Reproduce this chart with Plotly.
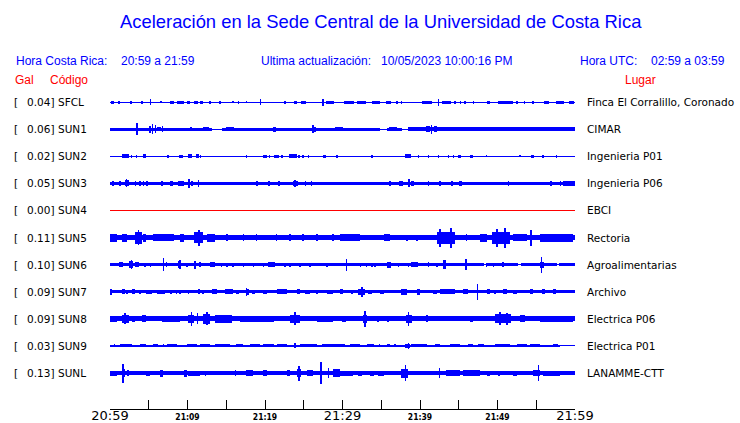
import plotly.graph_objects as go

# ---------------- data ----------------
codes = ["SFCL", "SUN1", "SUN2", "SUN3", "SUN4", "SUN5", "SUN6", "SUN7", "SUN8", "SUN9", "SUNL"]
gal = ["0.04", "0.06", "0.02", "0.05", "0.00", "0.11", "0.10", "0.09", "0.09", "0.03", "0.13"]
places = ["Finca El Corralillo, Coronado", "CIMAR", "Ingenieria P01", "Ingenieria P06", "EBCI",
          "Rectoria", "Agroalimentarias", "Archivo", "Electrica P06", "Electrica P01", "LANAMME-CTT"]

tick_minutes = [0, 5, 10, 15, 20, 25, 30, 35, 40, 45, 50, 55, 60]
tick_labels = ["20:59", "", "21:09", "", "21:19", "", "21:29", "", "21:39", "", "21:49", "", "21:59"]
major_ticks = ["20:59", "21:29", "21:59"]

# background noise level per station: (start min, end min, half amplitude)
band_SFCL = [(0, 60, 0.5)]
band_SUN1 = [(0, 13.1, 1.6), (13.1, 14.4, 0.5), (14.4, 34.8, 1.6), (34.8, 35.7, 0.5),
             (35.7, 37.7, 1.6), (37.7, 38.5, 0.5), (38.5, 60, 1.7)]
band_SUN2 = [(0, 60, 0.5)]
band_SUN3 = [(0, 58.5, 1.7), (58.5, 60, 2.2)]
band_SUN4 = [(0, 60, 0.5)]
band_SUN5 = [(0, 60, 2.6)]
band_SUN6 = [(0, 48.2, 1.4), (48.2, 48.6, 0.5), (48.6, 52.6, 1.4), (52.6, 53.0, 0.5),
             (53.0, 57.7, 1.4), (57.7, 57.9, 0.5), (57.9, 60, 1.6)]
band_SUN7 = [(0, 60, 1.7)]
band_SUN8 = [(0, 60, 2.6)]
band_SUN9 = [(0, 58.0, 0.9), (58.0, 60, 0.5)]
band_SUNL = [(0, 60, 1.7)]

# bursts / spikes per station: (start min, end min, half amplitude)
ev_SFCL = [(0.1, 0.5, 1.5), (1.0, 1.3, 1.5), (2.7, 2.7, 1.5), (4.1, 4.1, 1.5), (5.2, 5.2, 3), (6.6, 6.6, 1.2),
           (7.8, 8.2, 1.5), (8.6, 9.6, 1.5), (9.9, 10.3, 1.5), (10.8, 11.3, 1.5), (11.6, 12.0, 1.5),
           (12.9, 12.9, 1.5), (14.2, 14.2, 1.5), (15.9, 15.9, 1.2), (16.6, 16.6, 1.5), (17.6, 17.6, 1.2),
           (19.4, 19.4, 3), (22.6, 22.6, 1.5), (23.7, 24.1, 1.5), (24.7, 25.3, 1.5), (27.5, 27.5, 3.5),
           (27.9, 28.9, 1.5), (30.2, 31.5, 1.5), (31.9, 33.0, 1.5), (33.8, 34.8, 1.5), (35.6, 36.2, 1.5),
           (37.0, 37.0, 1.5), (37.6, 37.6, 1.5), (40.2, 41.6, 1.5), (42.4, 42.4, 3.5), (42.9, 44.0, 1.5),
           (44.5, 44.5, 1.5), (45.2, 45.2, 1.5), (45.8, 45.8, 1.5), (46.9, 46.9, 1.5), (48.6, 49.0, 1.5),
           (50.0, 52.0, 1.5), (52.5, 52.5, 1.5), (53.5, 53.5, 1.5), (54.6, 54.6, 1.5), (56.0, 56.6, 1.5),
           (57.6, 58.6, 1.5), (59.2, 59.9, 1.5)]
ev_SUN1 = [(3.5, 3.5, 6), (5.0, 5.3, 3.5), (5.5, 5.5, 5), (5.8, 5.9, 4), (6.0, 6.6, 2.2), (6.8, 6.8, 3),
           (10.3, 10.6, 2.2), (12.0, 12.8, 2.2), (15.0, 16.0, 2), (21.0, 21.4, 2.5), (26.0, 26.6, 2.5),
           (26.2, 26.2, 4), (29.0, 30.0, 2), (36.0, 37.0, 2), (40.8, 41.3, 3), (41.5, 41.5, 4.5),
           (41.8, 42.2, 3), (44.0, 48.0, 2), (50.0, 51.0, 2), (52.0, 53.0, 2)]
ev_SUN2 = [(1.5, 2.5, 2), (2.8, 2.8, 1.5), (3.4, 3.4, 1.5), (4.3, 4.7, 1.8), (7.5, 7.5, 1.5), (8.9, 9.4, 1.5),
           (10.0, 10.6, 1.8), (11.1, 11.5, 1.8), (11.7, 11.7, 1.5), (17.6, 17.6, 1.5), (19.8, 20.3, 1.5),
           (20.6, 20.6, 1.5), (21.2, 21.8, 1.5), (22.2, 22.2, 1.5), (23.1, 24.1, 1.8), (24.4, 24.4, 1.5),
           (24.9, 24.9, 1.5), (25.6, 25.6, 1.5), (27.5, 27.9, 1.5), (29.3, 29.3, 1.5), (33.8, 33.8, 1.5),
           (38.0, 38.8, 2), (39.8, 39.8, 1.5), (41.1, 41.1, 1.5), (42.4, 42.4, 1.5), (43.7, 43.7, 1.5),
           (44.3, 44.3, 1.5), (44.9, 45.3, 1.5), (46.5, 46.9, 1.5), (48.6, 48.6, 1.2), (52.9, 52.9, 1.2),
           (54.3, 54.7, 1.5), (55.9, 55.9, 1.5), (57.6, 57.6, 1.5)]
ev_SUN3 = [(0.4, 0.4, 2.5), (1.3, 1.3, 2.5), (1.9, 2.4, 3), (2.1, 2.1, 4), (3.3, 3.3, 2.5), (3.9, 3.9, 2.5),
           (4.3, 4.3, 2.5), (4.8, 4.8, 2.5), (6.7, 6.7, 2.5), (7.8, 8.1, 2.5), (8.8, 9.6, 2.5),
           (10.2, 10.2, 4.5), (10.6, 10.6, 2.5), (11.4, 11.4, 3.5), (19.0, 19.0, 2.5), (20.5, 20.5, 2.5),
           (21.8, 21.8, 2.5), (23.6, 24.2, 2.7), (23.9, 23.9, 3.8), (25.2, 25.2, 2.5), (26.0, 26.0, 2.5),
           (36.1, 36.1, 2.5), (37.3, 37.8, 2.5), (38.6, 38.6, 4), (38.9, 39.2, 2.5), (41.1, 41.1, 2.5),
           (42.6, 42.6, 2.5), (44.1, 44.1, 2.5), (45.0, 45.4, 2.5), (51.4, 51.4, 2.5), (56.9, 56.9, 2.5),
           (58.1, 58.1, 2.5)]
ev_SUN4 = []
ev_SUN5 = [(0, 0.9, 4), (1.5, 2.2, 4), (3.2, 4.1, 6), (3.7, 3.7, 7.5), (4.3, 4.7, 4), (5.6, 8.2, 3.5),
           (9.0, 9.5, 4), (10.8, 12.0, 5.5), (11.5, 11.5, 8), (12.5, 13.5, 4), (15.1, 15.1, 3.5),
           (17.2, 17.2, 3.5), (18.9, 18.9, 3.5), (21.5, 21.5, 3.5), (23.2, 23.2, 3.5), (24.9, 24.9, 3.5),
           (26.7, 26.7, 3.5), (28.8, 28.8, 3.5), (29.7, 32.3, 3.5), (35.3, 36.1, 3.5), (38.3, 38.3, 3),
           (39.6, 39.6, 3), (42.2, 44.5, 6), (42.6, 42.6, 9), (44.0, 44.0, 10), (46.0, 46.0, 3.5),
           (47.7, 48.6, 4), (49.3, 51.6, 6), (49.9, 49.9, 9), (51.0, 51.0, 10), (52.0, 53.8, 3.5),
           (54.3, 54.3, 8), (55.5, 59.8, 4)]
ev_SUN6 = [(1.1, 1.7, 2.2), (2.4, 3.0, 3.5), (2.8, 2.8, 4.7), (3.2, 3.7, 2.5), (4.5, 4.5, 2), (5.2, 5.2, 2),
           (6.9, 6.9, 6.5), (7.3, 7.3, 2.5), (8.8, 9.2, 3.5), (9.0, 9.0, 4.5), (9.9, 9.9, 2), (11.0, 11.0, 4),
           (11.6, 11.6, 2.2), (12.9, 13.5, 2.5), (14.4, 14.4, 2), (15.1, 15.1, 2), (15.9, 15.9, 2),
           (17.2, 17.2, 2), (18.5, 18.5, 2), (19.8, 19.8, 2), (20.4, 21.3, 2.5), (22.6, 22.6, 2),
           (23.2, 23.2, 2), (24.5, 24.5, 2), (25.8, 25.8, 2), (28.0, 28.0, 2), (30.5, 30.5, 6),
           (32.3, 32.3, 2), (33.1, 33.1, 2), (33.8, 33.8, 2), (34.2, 34.2, 2), (35.7, 36.3, 3),
           (37.2, 37.2, 2), (38.5, 38.5, 2), (38.9, 39.8, 2.2), (41.1, 41.1, 2.3), (42.2, 42.2, 2),
           (43.0, 43.4, 4.5), (45.9, 45.9, 5.5), (48.6, 48.6, 2), (49.5, 49.5, 2), (50.7, 50.7, 2.2),
           (55.5, 56.0, 3), (55.7, 55.7, 8)]
ev_SUN7 = [(0, 0.2, 3), (1.5, 1.9, 2.5), (2.2, 2.2, 2.2), (2.8, 3.2, 2.5), (3.9, 3.9, 2.2), (4.7, 5.4, 2.2),
           (6.0, 7.1, 2.2), (7.7, 8.0, 2.2), (8.6, 8.6, 2.2), (9.0, 9.0, 2.2), (10.1, 10.1, 2.2),
           (11.4, 11.6, 2.5), (12.0, 12.0, 2.2), (13.1, 13.8, 2.5), (14.8, 15.9, 2.5), (16.3, 16.6, 2.2),
           (17.5, 17.9, 3), (17.6, 17.6, 4.2), (18.3, 18.7, 2.2), (19.8, 20.2, 2.2), (21.5, 22.8, 2.5),
           (24.1, 24.5, 2.5), (25.2, 25.8, 2.2), (26.7, 26.7, 2.2), (28.0, 28.8, 2.2), (29.7, 30.1, 2.5),
           (31.2, 31.2, 2.2), (32.0, 32.9, 3), (32.5, 32.5, 5), (33.3, 33.8, 2.2), (34.8, 35.3, 2.2),
           (37.6, 38.3, 3), (39.6, 40.0, 3), (41.7, 42.2, 2.2), (42.6, 44.5, 2.5), (45.6, 46.2, 2.5),
           (47.4, 47.4, 8), (48.6, 49.0, 2.5), (49.7, 49.7, 2.2), (50.7, 51.2, 2.5), (52.0, 52.5, 2.2),
           (54.2, 54.6, 2.5), (55.7, 56.1, 2.5), (57.2, 57.6, 2.5)]
ev_SUN8 = [(0, 0.9, 3), (1.5, 2.4, 4), (1.9, 1.9, 5.5), (2.8, 3.2, 3), (4.1, 4.7, 3.5), (6.7, 9.0, 3),
           (10.1, 10.8, 4), (10.5, 10.5, 7), (11.3, 11.3, 5.5), (12.0, 12.9, 5), (12.5, 12.5, 6.5),
           (13.5, 15.7, 4), (16.8, 21.1, 3), (23.2, 24.5, 4), (23.9, 23.9, 6.5), (26.7, 28.8, 3),
           (29.9, 30.5, 3), (32.7, 33.2, 4), (32.9, 32.9, 8), (34.6, 34.6, 3), (35.9, 35.9, 3),
           (38.2, 39.0, 4), (38.5, 38.5, 7), (40.9, 40.9, 3.5), (46.5, 46.9, 3), (49.7, 51.8, 4.5),
           (50.3, 50.3, 6.5), (51.2, 51.2, 6), (52.9, 53.5, 3.5), (55.5, 59.8, 3)]
ev_SUN9 = [(0.6, 0.6, 1.5), (1.3, 2.8, 1.5), (3.9, 4.7, 1.5), (5.6, 6.2, 1.5), (6.9, 6.9, 1.5),
           (7.3, 8.6, 1.5), (9.9, 11.2, 1.5), (11.6, 12.9, 1.5), (13.5, 15.5, 1.5), (16.3, 17.2, 1.5),
           (18.1, 19.4, 1.5), (19.8, 21.1, 1.5), (21.5, 22.8, 1.5), (23.9, 23.9, 2.5), (24.5, 26.7, 1.5),
           (27.3, 29.7, 1.5), (29.7, 30.3, 1.5), (31.0, 32.3, 1.5), (33.1, 34.0, 1.5), (34.8, 34.8, 1.5),
           (35.7, 36.1, 1.5), (36.8, 36.8, 1.5), (38.1, 38.7, 2.2), (38.5, 38.5, 3), (38.9, 40.9, 1.5),
           (41.9, 42.6, 1.5), (43.9, 45.2, 1.5), (46.2, 46.9, 1.5), (47.5, 48.2, 1.5), (49.7, 51.6, 1.5),
           (52.5, 53.8, 1.5), (54.2, 55.5, 1.5), (57.2, 57.8, 1.5)]
ev_SUNL = [(0, 0.9, 2.5), (1.5, 1.9, 4), (1.7, 1.7, 9.5), (2.2, 2.4, 3), (4.7, 5.2, 2.5), (6.5, 6.9, 3.5),
           (9.5, 9.9, 3.5), (10.1, 11.6, 2.5), (12.3, 12.3, 2.5), (13.5, 13.5, 2.2), (16.1, 16.3, 3),
           (17.6, 18.5, 3), (19.8, 20.2, 3), (22.8, 23.2, 3), (24.1, 24.7, 4), (24.4, 24.4, 7.5),
           (25.4, 26.2, 3), (27.2, 27.2, 11), (28.2, 28.2, 5), (28.8, 29.7, 4), (29.7, 31.4, 2.5),
           (32.0, 32.5, 2.5), (33.5, 34.0, 2.5), (34.6, 35.3, 2.5), (37.6, 38.5, 4.5), (38.1, 38.1, 8),
           (42.5, 42.5, 5), (43.4, 45.2, 3), (45.6, 47.7, 3), (48.6, 49.0, 2.5), (50.1, 50.3, 2.5),
           (52.0, 52.5, 2.5), (54.6, 55.5, 3), (55.3, 55.3, 8), (55.9, 58.1, 2.5)]

bands = [band_SFCL, band_SUN1, band_SUN2, band_SUN3, band_SUN4, band_SUN5,
         band_SUN6, band_SUN7, band_SUN8, band_SUN9, band_SUNL]
events = [ev_SFCL, ev_SUN1, ev_SUN2, ev_SUN3, ev_SUN4, ev_SUN5,
          ev_SUN6, ev_SUN7, ev_SUN8, ev_SUN9, ev_SUNL]

# ---------------- style ----------------
BLUE = "rgba(0,0,255,0.999)"   # near-opaque => crisp pixel-rounded bars
RED = "rgba(255,0,0,0.999)"
TXT_BLUE = "#0000ff"
TXT_RED = "#ff0000"
AMP_TO_ROW = 1 / 27.1      # amplitude units -> row spacing
SPIKE_W = 0.2              # minimum drawn width of a spike (minutes)
W, H = 740, 423
L, R, T, B = 110, 165, 88, 14
ROW0_PX = 102
ROW_PX = 27.1

fig = go.Figure()
for i, code in enumerate(codes):
    color = RED if gal[i] == "0.00" else BLUE
    xs, ws, bs, hs = [], [], [], []
    for (t0, t1, a) in bands[i] + events[i]:
        w = max(t1 - t0, SPIKE_W)
        xs.append((t0 + t1) / 2)
        ws.append(w)
        bs.append(i - a * AMP_TO_ROW)
        hs.append(2 * a * AMP_TO_ROW)
    fig.add_trace(go.Bar(x=xs, y=hs, base=bs, width=ws, marker=dict(color=color, line=dict(width=0)),
                         hoverinfo="skip", showlegend=False, name=code))

plot_h = H - T - B
y_top = (T - ROW0_PX) / ROW_PX
y_bot = (H - B - ROW0_PX) / ROW_PX

ticktext = []
for lab in tick_labels:
    if lab in major_ticks:
        ticktext.append('<span style="font-size:13px;font-family:DejaVu Sans;font-weight:normal">%s</span>' % lab)
    else:
        ticktext.append(lab)

fig.update_layout(
    width=W, height=H, margin=dict(l=L, r=R, t=T, b=B, autoexpand=False),
    paper_bgcolor="white", plot_bgcolor="white", barmode="overlay", bargap=0,
    font=dict(family="DejaVu Sans", color="black"),
    xaxis=dict(range=[0, 60], tickvals=tick_minutes, ticktext=ticktext, ticks="inside", ticklen=9,
               tickcolor="black", tickwidth=1, showline=True, linecolor="black", linewidth=1,
               showgrid=False, zeroline=False, automargin=False, ticklabelstandoff=0,
               tickfont=dict(family="DejaVu Sans Condensed", size=8.5, color="black", weight="bold"),
               fixedrange=True),
    yaxis=dict(range=[y_bot, y_top], visible=False, showgrid=False, zeroline=False, fixedrange=True,
               automargin=False),
)

def py(px):
    return (H - B - px) / plot_h

def px_x(px):
    return (px - L) / (W - L - R)

ann = []
ann.append(dict(text="Aceleración en la Sede Central de la Universidad de Costa Rica", x=px_x(381), y=py(22),
                xanchor="center", yanchor="middle", font=dict(family="Liberation Sans", size=18.4, color=TXT_BLUE)))
hdr = [("Hora Costa Rica:", 14), ("20:59 a 21:59", 119), ("Ultima actualización:", 259),
       ("10/05/2023 10:00:16 PM", 379), ("Hora UTC:", 578), ("02:59 a 03:59", 649)]
for txt, x0 in hdr:
    ann.append(dict(text=txt, x=px_x(x0), y=py(61), xanchor="left", yanchor="middle",
                    font=dict(family="Liberation Sans", size=12, color=TXT_BLUE)))
for txt, x0 in [("Gal", 13), ("Código", 48), ("Lugar", 623)]:
    ann.append(dict(text=txt, x=px_x(x0), y=py(80), xanchor="left", yanchor="middle",
                    font=dict(family="Liberation Sans", size=12, color=TXT_RED)))
lab_font = dict(family="DejaVu Sans", size=10.5, color="black")
for i in range(len(codes)):
    ann.append(dict(text="[", x=px_x(12), y=i, yref="y", xanchor="left", yanchor="middle", font=lab_font))
    ann.append(dict(text=gal[i] + "]", x=px_x(56), y=i, yref="y", xanchor="right", yanchor="middle", font=lab_font))
    ann.append(dict(text=codes[i], x=px_x(56), y=i, yref="y", xanchor="left", yanchor="middle", font=lab_font))
    ann.append(dict(text=places[i], x=px_x(585), y=i, yref="y", xanchor="left", yanchor="middle", font=lab_font))
for a in ann:
    a.setdefault("xref", "paper")
    a.setdefault("yref", "paper")
    a["showarrow"] = False
fig.update_layout(annotations=ann)

fig.write_html("out.html", config={"displayModeBar": False},
               post_script="document.body.style.margin='0';document.body.style.overflow='hidden';")
